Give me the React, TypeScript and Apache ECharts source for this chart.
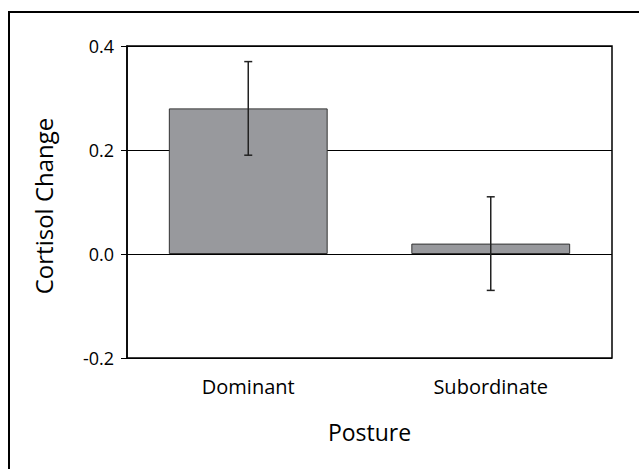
import React, { useEffect, useRef } from "react";
import * as echarts from "echarts";

const categories = ["Dominant", "Subordinate"];
const values = [0.28, 0.02];
const errLow = [0.19, -0.07];
const errHigh = [0.37, 0.11];
const yTicks = { min: -0.2, max: 0.4, interval: 0.2 };

export default function App() {
  const ref = useRef<HTMLDivElement>(null);
  useEffect(() => {
    if (!ref.current) return;
    const chart = echarts.init(ref.current, null, { renderer: "svg" });
    const font = "'Open Sans', 'Noto Sans', sans-serif";
    const errData = categories.map((_, i) => [i, errLow[i], errHigh[i]]);
    const frame = { stroke: "#000", lineWidth: 2 };
    chart.setOption({
      animation: false,
      backgroundColor: "#ffffff",
      textStyle: { fontFamily: font },
      graphic: [
        { type: "polyline", shape: { points: [[9, 469], [9, 12], [639, 12]] }, style: { ...frame, fill: "none" }, silent: true },
      ],
      grid: {
        left: 127,
        top: 46,
        right: 27,
        bottom: 111,
        show: true,
        borderColor: "#000",
        borderWidth: 1.5,
        backgroundColor: "transparent",
      },
      xAxis: {
        type: "category",
        data: categories,
        name: "Posture",
        nameLocation: "middle",
        nameGap: 62,
        nameTextStyle: { fontSize: 23, color: "#000", fontFamily: font },
        axisLine: { show: false },
        axisTick: { show: false },
        axisLabel: { fontSize: 20, color: "#000", margin: 18, fontFamily: font },
        splitLine: { show: false },
      },
      yAxis: {
        type: "value",
        min: yTicks.min,
        max: yTicks.max,
        interval: yTicks.interval,
        name: "Cortisol Change",
        nameLocation: "middle",
        nameRotate: 90,
        nameGap: 72,
        nameTextStyle: { fontSize: 24, color: "#000", fontFamily: font, padding: [0, 8, 0, 0] },
        axisLine: { show: true, lineStyle: { color: "#000", width: 1.5 } },
        axisTick: { show: true, length: 6, lineStyle: { color: "#000", width: 1 } },
        axisLabel: {
          fontSize: 18,
          color: "#000",
          margin: 13,
          fontFamily: font,
          formatter: (v: number) => v.toFixed(1),
        },
        splitLine: { show: true, lineStyle: { color: "#000", width: 1 } },
      },
      series: [
        {
          type: "bar",
          data: values,
          barWidth: "65.5%",
          itemStyle: { color: "#98999d", borderColor: "#333", borderWidth: 1 },
          z: 2,
        },
        {
          type: "custom",
          data: errData,
          z: 5,
          renderItem: (params: any, api: any) => {
            const x = api.value(0);
            const lo = api.coord([x, api.value(1)]);
            const hi = api.coord([x, api.value(2)]);
            const cap = 4;
            const style = { stroke: "#222", lineWidth: 1.5 };
            return {
              type: "group",
              children: [
                { type: "line", shape: { x1: hi[0], y1: hi[1], x2: lo[0], y2: lo[1] }, style },
                { type: "line", shape: { x1: hi[0] - cap, y1: hi[1], x2: hi[0] + cap, y2: hi[1] }, style },
                { type: "line", shape: { x1: lo[0] - cap, y1: lo[1], x2: lo[0] + cap, y2: lo[1] }, style },
              ],
            };
          },
        },
      ],
    });
    return () => chart.dispose();
  }, []);
  return (
    <div
      ref={ref}
      style={{ position: "absolute", left: 0, top: 0, width: 639, height: 469 }}
    />
  );
}
